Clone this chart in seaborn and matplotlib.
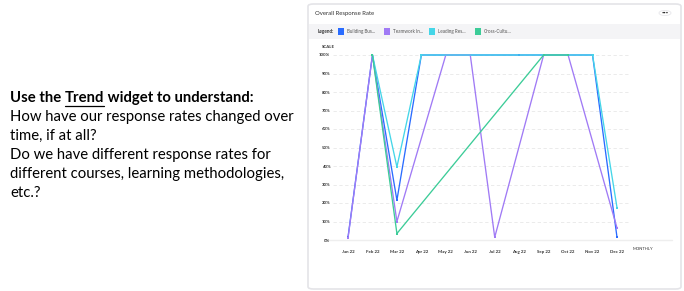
import matplotlib
matplotlib.use("Agg")
import matplotlib.pyplot as plt
from matplotlib.patches import FancyBboxPatch, Rectangle, Circle
import seaborn as sns
import pandas as pd
import numpy as np

months = ["Jan 22", "Feb 22", "Mar 22", "Apr 22", "May 22", "Jun 22",
          "Jul 22", "Aug 22", "Sep 22", "Oct 22", "Nov 22", "Dec 22"]
series_names = ["Building Bus...", "Teamwork In...", "Leading Res...", "Cross-Cultu..."]
building = [1.5, 100, 21.5, 100, None, None, None, 100, None, None, 100, 1.5]
teamwork = [1, 100, 10, None, 100, 100, 1.5, None, 100, 100, None, 6.5]
leading = [None, 100, 39.5, 100, None, None, None, None, None, None, 100, 17.5]
cross = [None, 100, 3.5, None, None, None, None, None, 100, 100, None, None]
y_ticks = [0, 10, 20, 30, 40, 50, 60, 70, 80, 90, 100]
colors = ["#2a6cff", "#a07af5", "#45d6e8", "#3ccc98"]

rows = []
for name, vals in zip(series_names, [building, teamwork, leading, cross]):
    for i, v in enumerate(vals):
        if v is not None:
            rows.append({"month": i, "rate": v, "course": name})
df = pd.DataFrame(rows)

sns.set_style("white")
plt.rcParams["font.family"] = ["Lato", "DejaVu Sans"]

W, H = 684, 291
fig = plt.figure(figsize=(W / 100, H / 100), dpi=100)

def fx(x):
    return x / W

def fy(y):
    return 1 - y / H

# Card
card = FancyBboxPatch((fx(308), fy(289)), fx(681) - fx(308), fy(4) - fy(289),
                      boxstyle="round,pad=0,rounding_size=0.008",
                      transform=fig.transFigure, facecolor="white",
                      edgecolor="#e4e4e8", linewidth=1.2, zorder=-5)
fig.patches.append(card)
# legend bar
fig.patches.append(Rectangle((fx(309), fy(39)), fx(680) - fx(309), fy(24) - fy(39),
                             transform=fig.transFigure, facecolor="#f4f4f6",
                             edgecolor="none", zorder=-4))
fig.text(fx(315), fy(13), "Overall Response Rate", fontsize=4.3, color="#333333",
         va="center", ha="left")
fig.patches.append(Circle((fx(665), fy(13)), 6 / W, transform=fig.transFigure,
                          facecolor="white", edgecolor="#e6e6ea", lw=0.6, zorder=2))
fig.text(fx(665), fy(13), "•••", fontsize=3.0, color="#222222", ha="center",
         va="center", zorder=3)
fig.text(fx(318), fy(31.5), "Legend:", fontsize=3.3, fontweight="bold", color="#333333",
         va="center", ha="left", zorder=3)
leg_x = [341, 387, 432, 478]
for lx, name, c in zip(leg_x, series_names, colors):
    fig.patches.append(Rectangle((fx(lx - 3), fy(34.5)), 6 / W, 6 / H,
                                 transform=fig.transFigure, facecolor=c,
                                 edgecolor="none", zorder=3))
    fig.text(fx(lx + 6), fy(31.5), name, fontsize=3.3, color="#555555",
             va="center", ha="left", zorder=3)

fig.text(fx(322), fy(47), "SCALE", fontsize=3.2, fontweight="bold", color="#333333",
         va="center", ha="left")

# Axes
ax_left, ax_right = 333, 630
ax_top, ax_bot = 55, 240
ax = fig.add_axes([fx(ax_left), fy(ax_bot), fx(ax_right) - fx(ax_left), fy(ax_top) - fy(ax_bot)],
                  zorder=2)
ax.patch.set_alpha(0)
step = (617 - 348) / 11
ax.set_xlim(-(348 - ax_left) / step, 11 + (ax_right - 617) / step)
ax.set_ylim(0, 100)

for t in y_ticks[1:]:
    ax.axhline(t, color="#e8e8e8", lw=0.6, ls=(0, (4, 3)), zorder=0)

sns.lineplot(data=df, x="month", y="rate", hue="course", palette=colors,
             hue_order=series_names, sort=True, estimator=None, lw=0.95,
             marker="s", markersize=2.0, markeredgewidth=0, legend=False,
             ax=ax)
for line in ax.lines:
    line.set_clip_on(False)

ax.set_xticks(range(12))
ax.set_xticklabels(months)
ax.set_yticks(y_ticks)
ax.set_yticklabels([f"{t}%" for t in y_ticks])
ax.tick_params(axis="both", length=0, labelsize=3.2, colors="#333333")
ax.tick_params(axis="x", pad=7)
ax.tick_params(axis="y", pad=2)
for lab in ax.get_xticklabels() + ax.get_yticklabels():
    lab.set_fontweight("bold")
ax.set_xlabel("")
ax.set_ylabel("")
for s in ax.spines.values():
    s.set_visible(False)
fig.lines.append(plt.Line2D([fx(ax_left - 5), fx(672)], [fy(240), fy(240)],
                            transform=fig.transFigure, color="#eeeeee", lw=1.0, zorder=1))
fig.text(fx(633), fy(249.5), "MONTHLY", fontsize=3.0, color="#333333",
         va="center", ha="left")

# Left text
fs = 10.7
x0 = fx(10)
line_y = [98, 117, 136, 155, 174, 193]
renderer = fig.canvas.get_renderer()
t_pre = fig.text(x0, fy(line_y[0]), "Use the ", fontsize=fs, fontweight="bold",
                 va="center", ha="left", color="#000000")
bb = t_pre.get_window_extent(renderer)
t_trend = fig.text(bb.x1 / W, fy(line_y[0]), "Trend", fontsize=fs, fontweight="bold",
                   va="center", ha="left", color="#000000")
bb2 = t_trend.get_window_extent(renderer)
fig.text(bb2.x1 / W, fy(line_y[0]), " widget to understand:", fontsize=fs,
         fontweight="bold", va="center", ha="left", color="#000000")
fig.lines.append(plt.Line2D([bb2.x0 / W, bb2.x1 / W], [fy(line_y[0] + 7.5)] * 2,
                            transform=fig.transFigure, color="black", lw=0.9))
lines = ["How have our response rates changed over",
         "time, if at all?",
         "Do we have different response rates for",
         "different courses, learning methodologies,",
         "etc.?"]
for ly, txt in zip(line_y[1:], lines):
    fig.text(x0, fy(ly), txt, fontsize=fs, va="center", ha="left", color="#000000")

fig.savefig("out.png", dpi=100)
